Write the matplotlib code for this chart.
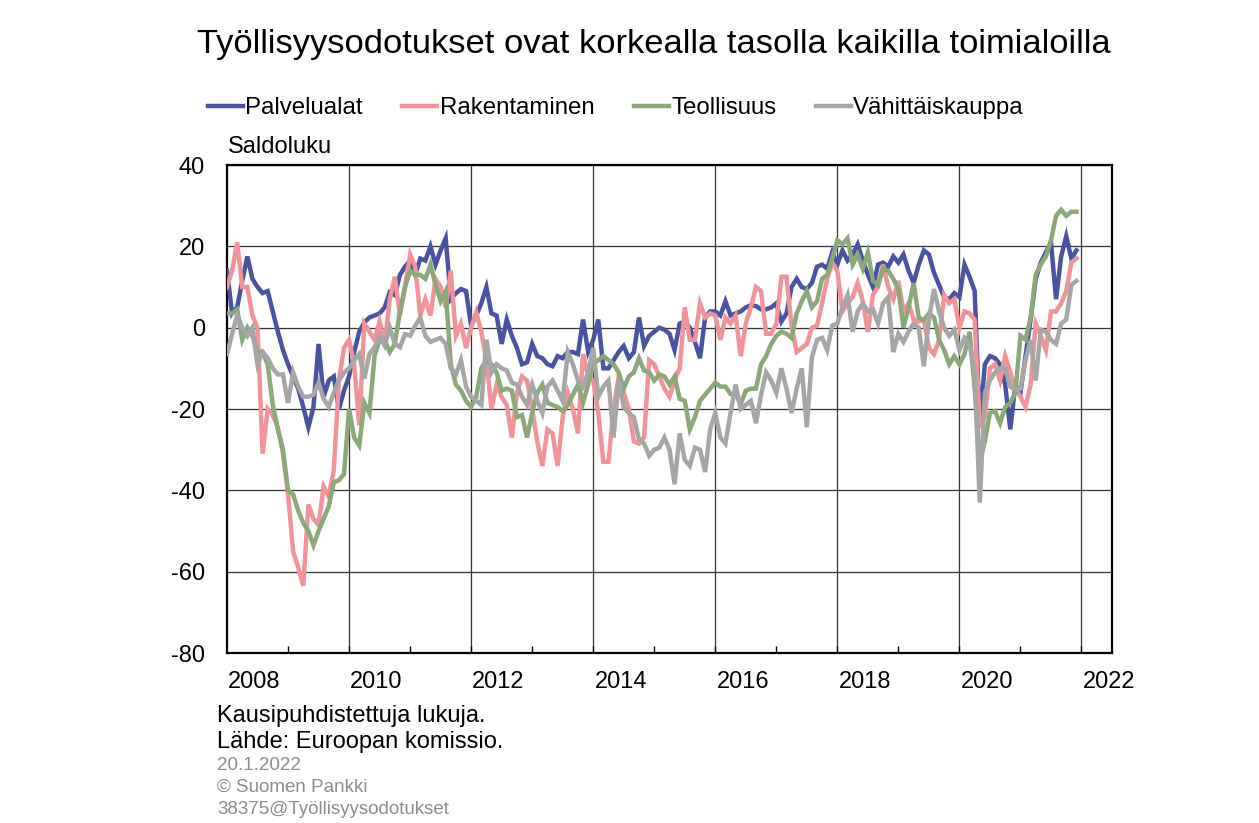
import numpy as np
import matplotlib.pyplot as plt

plt.rcParams['font.family'] = ['Liberation Sans', 'DejaVu Sans']
plt.rcParams['axes.unicode_minus'] = False

start_year = 2008

# monthly balance figures, one row per year 2008-2021
palvelualat = [
    14, 3.5, 5, 11.5, 17.5, 12, 10, 8.5, 9, 4, -1, -5.5,
    -9, -12, -15, -19.5, -24.5, -19.5, -4, -17, -13, -12, -20, -15.5,
    -12, -6, -1, 1.3, 2.5, 3, 3.5, 5, 8.7, 8, 13, 15,
    16.5, 13, 17, 16.5, 20, 15.5, 19, 22, 7, 8.5, 9.5, 9,
    0.5, 3, 6, 10, 3.5, 3, -4, 2, -2, -5, -9, -8.5,
    -4, -7, -7.5, -9, -9.5, -7, -7.5, -6, -6, -6.5, 2, -6,
    -3, 2, -10, -10, -8, -6, -4.5, -7.5, -6, 2.5, -4.5, -2,
    -1, 0, -0.5, -1.5, -5.5, 1, 1.5, 0, -3.5, -7.5, 2.5, 4,
    4, 3, 6.5, 3, 3.5, 4, 5, 5.5, 5.3, 4.5, 4.5, 5,
    6, 1.5, 3.5, 10, 12, 10, 9.5, 11, 15, 15.5, 14.5, 18.5,
    15.5, 19, 16.5, 18, 20.5, 16.5, 13, 10, 15.5, 16, 15, 17.5,
    16, 18, 14, 11, 15.5, 19, 18, 13.5, 10.5, 7.5, 7, 8.5,
    7.5, 15.5, 12.5, 9, -24, -9, -7, -7.5, -9, -14, -25, -14,
    -16, -7, 2, 12, 16, 18.5, 21, 7, 17.5, 22.5, 17, 19,
]
rakentaminen = [
    10, 14, 21, 10, 10, 3, 0, -31, -20, -21.5, -24.5, -31,
    -41, -55, -59, -63.5, -43.5, -47, -48.5, -39, -41.5, -35, -13, -5,
    -3, -9, -24, 1, -1, -3, 1.5, -4, 7, 12.5, 3, 10,
    18, 15, 3, 7, 3, 12, 10, 5, 14, -2, 1, -5,
    0, 3.8, -1, -8, -20, -14, -17, -19, -27, -16, -12, -13,
    -20, -28, -34, -25, -26, -34, -22, -16, -20, -26, -6.5, -12,
    -13, -21, -33, -33, -20, -12, -16, -20, -28, -28.5, -27, -8,
    -9, -12, -15, -17, -13, -10, 5, -3, -3, 6, 2.5, 3.5,
    3, -3, 2.5, 1, 3, -7, 1, 5, 10, 9, -1.5, -1.5,
    1, 12.5, 12.5, 0.5, -6, -5, -4, 0, 0.5, 6, 12, 16,
    14, 4, 6, 7.5, 11, 6.5, -1, 8, 10, 15.5, 10, 7,
    11.5, 4, 6, 2, 1.5, 2, -5, -6.5, -3, 8, 6, 7,
    0, 4, 3.5, 2, -24, -22, -10, -9, -13, -7, -11, -15,
    -17, -19.5, -14, 1, -2, -5.5, 4, 4, 6, 9, 16, 17,
]
teollisuus = [
    3.5, 3.5, 4.5, -3, 0, -2, -6, -6, -9, -19, -25, -30,
    -40, -41, -45, -48, -50, -53.5, -50, -47, -44, -38, -37.5, -36,
    -20, -27, -29, -18.5, -21, -7, -3, -3, -6, -4, 4, 10,
    14, 13, 13, 12, 15.5, 10.5, 6.5, 9, -9, -14, -15.5, -18,
    -19.5, -17, -10, -8, -9, -11, -15.5, -15, -15.5, -22, -21.5, -27,
    -21, -16, -14, -18.5, -19, -19.5, -20.5, -19, -16.5, -14, -18.5, -14,
    -9, -8, -7, -8, -9, -11, -15, -12, -11, -7.5, -10.5, -11,
    -13, -11.5, -12, -14, -12, -17.5, -18, -25, -22, -18, -16.5, -15,
    -13.5, -14.5, -14.5, -16.3, -16.3, -18.8, -15.5, -15, -15, -9, -7, -4,
    -2, -1, -1.5, -2.5, 3.5, 6.5, 9, 5, 6.5, 12, 13, 17,
    21.5, 20.5, 22, 15.5, 18, 14.5, 18.5, 11.5, 10.5, 14.5, 14, 12,
    9.5, 0, 5, 11, 2.5, 1.8, 3.5, 2.5, -3, -5.5, -9, -7,
    -9, -6.5, -1, -15, -33, -28, -21, -20.5, -23.5, -19.5, -18.5, -16,
    -2, -3, 2.5, 13, 15.5, 17.5, 21.5, 27.5, 29, 27.5, 28.5, 28.5,
]
vahittaiskauppa = [
    -6.5, -1.5, 3, 0, -2, 0, -9, -6, -7.5, -10, -11.5, -11.5,
    -18.5, -11, -14.5, -17, -17, -16.5, -13.5, -17.5, -19.5, -16, -13, -11,
    -10, -8, -6.5, -12.5, -6.5, -4.8, -2, -4.4, 0, -4, -4.8, -1.6,
    -2, 0.5, 2.5, -2, -3.5, -3, -2.5, -4, -10, -11.5, -8, -14.5,
    -17, -18, -19, -3, -11, -9, -10, -10.5, -13.5, -14, -17, -19,
    -14, -18, -21, -14.5, -13, -15.5, -18, -6, -9, -13, -14.5, -11,
    -5, -17, -14.5, -13, -27, -13, -19.5, -21, -22, -27.5, -28.5, -31.5,
    -30, -29.5, -27, -30, -38.5, -26, -32.5, -34, -29.5, -30, -35.5, -25,
    -21, -27, -28.5, -21, -14, -20, -19, -18, -23.5, -16.5, -11, -13,
    -16, -10, -15, -21, -15, -10, -24.5, -7.3, -3, -2.5, -5.5, 0.5,
    1, 5, 8, -1, 4, 6, 4, 4.5, 1, 6, 7.5, -6,
    -1.5, -3.5, -1, 1, 0, -9.5, 2, 9.5, 4, 0, -2, -0.5,
    -5.5, -2.5, -4, -11, -43, -16, -13, -11, -10, -10, -14.5, -15.3,
    -15, -8, -3, -13, -0.5, -1, -3, -4, 1, 2, 10.5, 11.5,
]

series = [
    ("Palvelualat", palvelualat, "#4a52a2"),
    ("Rakentaminen", rakentaminen, "#f0939a"),
    ("Teollisuus", teollisuus, "#8aa878"),
    ("Vähittäiskauppa", vahittaiskauppa, "#a6a6a6"),
]

label_years = [2008, 2010, 2012, 2014, 2016, 2018, 2020, 2022]
grid_years = [2010, 2012, 2014, 2016, 2018, 2020, 2022]
y_ticks = [-80, -60, -40, -20, 0, 20, 40]

W, H = 1259, 823
fig = plt.figure(figsize=(W / 100, H / 100), dpi=100)
ax = fig.add_axes([227 / W, 1 - 653 / H, (1112 - 227) / W, (653 - 165) / H])

for name, values, color in series:
    x = start_year + np.arange(len(values)) / 12
    ax.plot(x, values, color=color, linewidth=3.2, label=name,
            solid_joinstyle='miter', zorder=3)

ax.set_xlim(2008, 2022.5)
ax.set_ylim(-80, 40)
ax.set_yticks(y_ticks)
ax.set_yticklabels([str(v) for v in y_ticks])
ax.set_xticks([y + 0.45 for y in label_years])
ax.set_xticklabels([str(y) for y in label_years])
ax.set_xticks(range(2009, 2023), minor=True)
ax.tick_params(axis='x', which='major', length=0, pad=13, labelsize=17)
ax.tick_params(axis='x', which='minor', direction='in', length=5, width=1)
ax.tick_params(axis='y', length=0, pad=16, labelsize=17)

ax.yaxis.grid(True, color='#333333', linewidth=0.9, zorder=1)
for gy in grid_years:
    ax.axvline(gy, color='#333333', linewidth=0.9, zorder=1)
for sp in ax.spines.values():
    sp.set_linewidth(1.6)
    sp.set_color('black')

fig.text(654 / W, 1 - 45 / H, "Työllisyysodotukset ovat korkealla tasolla kaikilla toimialoilla",
         ha='center', va='center', fontsize=24.8)
fig.legend(loc='center', bbox_to_anchor=(616 / W, 1 - 108 / H), ncol=4, frameon=False,
           fontsize=17.3, handlelength=1.45, handletextpad=0.1, columnspacing=1.65)
fig.text(228 / W, 1 - 147 / H, "Saldoluku", ha='left', va='center', fontsize=17)

fig.text(217 / W, 1 - 716 / H, "Kausipuhdistettuja lukuja.", ha='left', va='center', fontsize=17)
fig.text(217 / W, 1 - 742 / H, "Lähde: Euroopan komissio.", ha='left', va='center', fontsize=17)
fig.text(217 / W, 1 - 765 / H, "20.1.2022", ha='left', va='center', fontsize=13.5, color='#8c8c8c')
fig.text(217 / W, 1 - 787 / H, "© Suomen Pankki", ha='left', va='center', fontsize=13.5, color='#8c8c8c')
fig.text(217 / W, 1 - 809 / H, "38375@Työllisyysodotukset", ha='left', va='center', fontsize=13.5, color='#8c8c8c')

fig.savefig("out.png", dpi=100)
